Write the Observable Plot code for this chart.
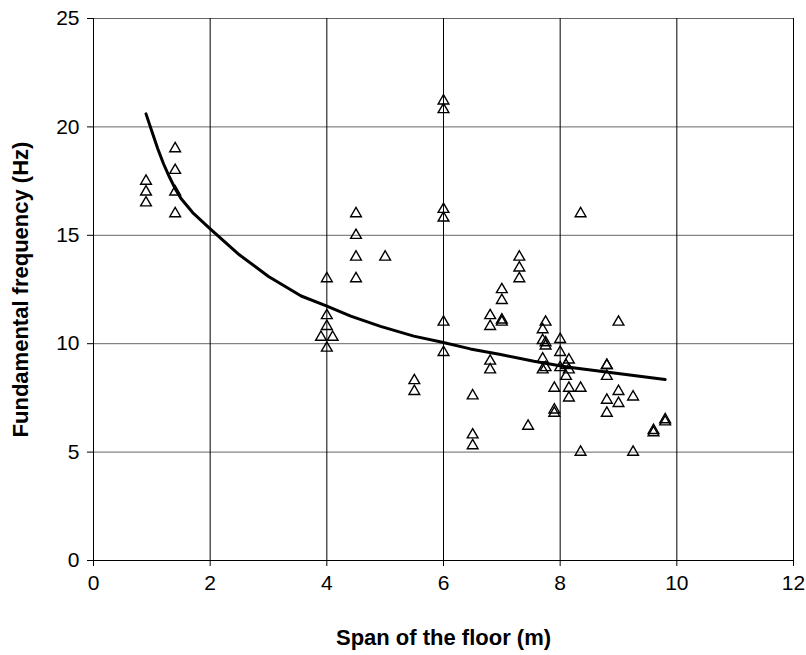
<!DOCTYPE html>
<html>
<head>
<meta charset="utf-8">
<script src="https://cdn.jsdelivr.net/npm/d3@7"></script>
<script src="https://cdn.jsdelivr.net/npm/@observablehq/plot@0.6"></script>
<style>
  html, body { margin: 0; padding: 0; background: #fff; }
</style>
</head>
<body>
<div id="chart"></div>
<script>
// Measured floors: span (m) and fundamental frequency (Hz)
const spanX = [
  0.9, 0.9, 0.9,
  1.4, 1.4, 1.4, 1.4,
  3.9, 4.1, 4.0, 4.0, 4.0, 4.0,
  4.5, 4.5, 4.5, 4.5,
  5.0,
  5.5, 5.5,
  6.0, 6.0, 6.0, 6.0, 6.0, 6.0,
  6.5, 6.5, 6.5,
  6.8, 6.8, 6.8, 6.8,
  7.0, 7.0, 7.0, 7.0,
  7.3, 7.3, 7.3,
  7.45,
  7.7, 7.7, 7.7, 7.7,
  7.75, 7.75, 7.75, 7.75,
  7.9, 7.9, 7.9,
  8.0, 8.0, 8.0,
  8.1, 8.1,
  8.15, 8.15, 8.15, 8.15,
  8.35, 8.35, 8.35,
  8.8, 8.8, 8.8, 8.8, 8.8,
  9.0, 9.0, 9.0,
  9.25, 9.25,
  9.6, 9.6,
  9.8, 9.8
];
const freqY = [
  17.5, 17.0, 16.5,
  19.0, 18.0, 17.0, 16.0,
  10.3, 10.3, 13.0, 11.3, 10.8, 9.8,
  16.0, 15.0, 14.0, 13.0,
  14.0,
  8.3, 7.8,
  21.2, 20.8, 16.2, 15.8, 11.0, 9.6,
  7.6, 5.8, 5.3,
  11.3, 10.8, 9.2, 8.8,
  12.5, 12.0, 11.1, 11.0,
  14.0, 13.5, 13.0,
  6.2,
  10.65, 10.15, 9.3, 8.8,
  11.0, 10.05, 9.9, 8.9,
  7.95, 6.95, 6.8,
  10.2, 9.6, 8.9,
  9.0, 8.5,
  9.25, 8.8, 7.95, 7.5,
  16.0, 7.95, 5.0,
  9.0, 8.5, 7.4, 6.8, 9.0,
  11.0, 7.8, 7.25,
  7.55, 5.0,
  6.0, 5.9,
  6.5, 6.4
];

// Trend curve
const curveX = [0.9, 1.0, 1.1, 1.2, 1.3, 1.4, 1.5, 1.7, 2.0, 2.5, 3.0, 3.56, 3.98, 4.41, 4.92, 5.49, 5.98, 6.46, 6.98, 7.55, 8.12, 8.69, 9.26, 9.8];
const curveY = [20.6, 19.8, 19.0, 18.3, 17.7, 17.15, 16.7, 16.05, 15.3, 14.1, 13.1, 12.2, 11.76, 11.27, 10.8, 10.35, 10.07, 9.76, 9.5, 9.19, 8.93, 8.73, 8.53, 8.35];

const xTicks = [0, 2, 4, 6, 8, 10, 12];
const yTicks = [0, 5, 10, 15, 20, 25];
const xTitle = "Span of the floor (m)";
const yTitle = "Fundamental frequency (Hz)";

const points = spanX.map((x, i) => ({x, y: freqY[i]}));
const curve = curveX.map((x, i) => ({x, y: curveY[i]}));

const chart = Plot.plot({
  width: 806,
  height: 655,
  marginLeft: 93,
  marginRight: 13,
  marginTop: 18,
  marginBottom: 95,
  style: {fontFamily: "'Liberation Sans', Arial, sans-serif", fontSize: "21px", color: "#000", background: "#fff"},
  x: {domain: [0, 12]},
  y: {domain: [0, 25]},
  marks: [
    Plot.gridY(yTicks.filter(d => d > 0), {stroke: "#666", strokeOpacity: 1, strokeWidth: 1}),
    Plot.gridX(xTicks.filter(d => d > 0), {stroke: "#000", strokeOpacity: 1, strokeWidth: 1}),
    Plot.ruleX([0], {stroke: "#000", strokeWidth: 1}),
    Plot.ruleY([0], {stroke: "#000", strokeWidth: 1}),
    Plot.axisX(xTicks, {tickSize: 6, tickPadding: 9, label: null, stroke: "#000", fontSize: 21}),
    Plot.axisY(yTicks, {tickSize: 6, tickPadding: 8, label: null, stroke: "#000", fontSize: 21}),
    Plot.dot(points, {x: "x", y: "y", symbol: "triangle", r: 4, stroke: "#000", strokeWidth: 1.4, fill: "none"}),
    Plot.line(curve, {x: "x", y: "y", stroke: "#000", strokeWidth: 3, curve: "linear"}),
    Plot.text([xTitle], {frameAnchor: "bottom", dy: 77, lineAnchor: "middle", textAnchor: "middle", fontWeight: "bold", fontSize: 22, fill: "#000"}),
    Plot.text([yTitle], {frameAnchor: "left", dx: -73, rotate: -90, lineAnchor: "middle", textAnchor: "middle", fontWeight: "bold", fontSize: 22, fill: "#000"})
  ]
});
document.getElementById("chart").appendChild(chart);
</script>
</body>
</html>
